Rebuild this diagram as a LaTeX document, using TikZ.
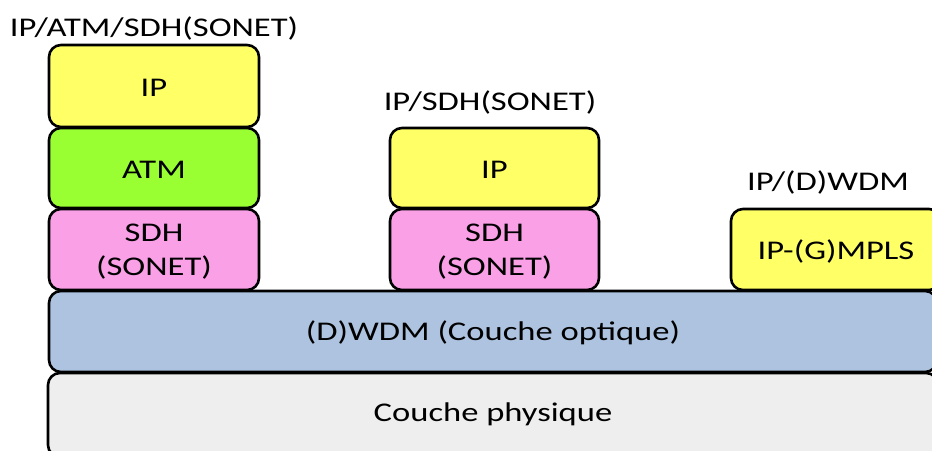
\documentclass[tikz,border=0pt]{standalone}
\usepackage{fontspec}
\setmainfont{Carlito}[FakeStretch=1.28]
\definecolor{cYel}{HTML}{FFFF66}
\definecolor{cGrn}{HTML}{99FF33}
\definecolor{cPnk}{HTML}{F9A0E6}
\definecolor{cBlu}{HTML}{ADC3DF}
\definecolor{cGry}{HTML}{EEEEEE}
\begin{document}
\begin{tikzpicture}[x=1pt,y=-1pt,
  layer/.style={draw=black, line width=2.6pt, rounded corners=12pt, inner sep=0pt,
    align=center, font=\fontsize{27}{34}\selectfont, text=black},
  lbl/.style={inner sep=0pt, font=\fontsize{27}{34}\selectfont, text=black}]
\useasboundingbox (0,0) rectangle (932,450);
\clip (0,0) rectangle (932,450);
% base layers
\node[layer, fill=cGry, minimum width=890pt, minimum height=84pt] (phy) at (493,415) {};
\node[lbl] (phyt) at (493,414) {Couche physique};
\node[layer, fill=cBlu, minimum width=888pt, minimum height=81pt] (wdm) at (493,331.5) {};
\node[lbl] (wdmt) at (493,333) {(D)WDM (Couche optique)};
% left stack
\node[layer, fill=cYel, minimum width=210pt, minimum height=82pt] (ip1) at (154,86) {};
\node[lbl] (ip1t) at (154,87.5) {IP};
\node[layer, fill=cGrn, minimum width=210pt, minimum height=80pt] (atm1) at (154,168) {};
\node[lbl] (atm1t) at (154,169.5) {ATM};
\node[layer, fill=cPnk, minimum width=210pt, minimum height=81pt] (sdh1) at (154,249.5) {};
\node[lbl, align=center] (sdh1t) at (154,252) {SDH\\(SONET)};
\node[lbl] (t1) at (154,28) {IP/ATM/SDH(SONET)};
% middle stack
\node[layer, fill=cYel, minimum width=209pt, minimum height=80pt] (ip2) at (494.5,168) {};
\node[lbl] (ip2t) at (494.5,169.5) {IP};
\node[layer, fill=cPnk, minimum width=209pt, minimum height=81pt] (sdh2) at (494.5,249.5) {};
\node[lbl, align=center] (sdh2t) at (494.5,252) {SDH\\(SONET)};
\node[lbl] (t2) at (490,102.5) {IP/SDH(SONET)};
% right stack
\node[layer, fill=cYel, minimum width=210pt, minimum height=81pt] (ip3) at (836,249.5) {};
\node[lbl] (ip3t) at (836,251) {IP-(G)MPLS};
\node[lbl] (t3) at (828,182.5) {IP/(D)WDM};
\end{tikzpicture}
\end{document}
